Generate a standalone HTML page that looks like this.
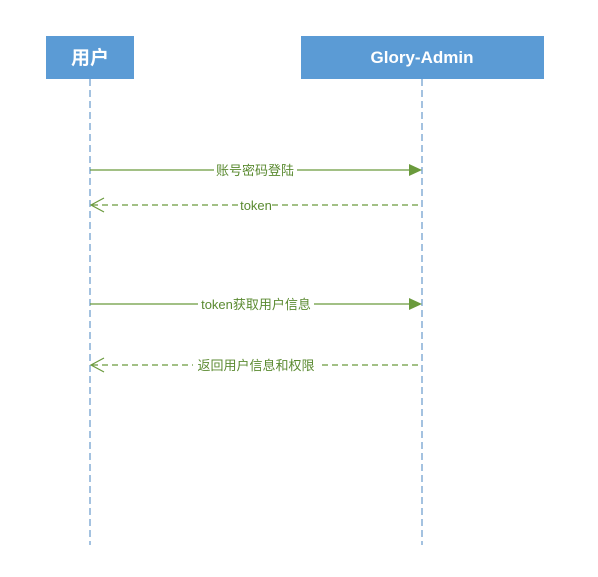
<!DOCTYPE html>
<html><head><meta charset="utf-8"><style>
body{margin:0;background:#fff;}
</style></head><body>
<svg width="598" height="577" xmlns="http://www.w3.org/2000/svg" style="display:block">
<rect width="598" height="577" fill="#fff"/>
<rect x="46" y="36" width="88" height="43" fill="#5b9bd5"/>
<rect x="301" y="36" width="243" height="43" fill="#5b9bd5"/>
<text x="90" y="64" fill="#fff" font-family="Liberation Sans, Noto Sans CJK SC, sans-serif" font-size="19" font-weight="bold" text-anchor="middle">用户</text>
<text x="422" y="63" fill="#fff" font-family="Liberation Sans, sans-serif" font-size="17" font-weight="bold" text-anchor="middle">Glory-Admin</text>
<line x1="90" y1="79" x2="90" y2="545" stroke="#4a86c0" stroke-dasharray="7,4"/>
<line x1="422" y1="79" x2="422" y2="545" stroke="#4a86c0" stroke-dasharray="7,4"/>
<g stroke="#6a9a3c" stroke-width="1.2" fill="none">
<line x1="90" y1="170" x2="410" y2="170"/>
<line x1="92" y1="205" x2="422" y2="205" stroke-dasharray="6,4"/>
<polyline points="104,198 91,205 104,212"/>
<line x1="90" y1="304" x2="410" y2="304"/>
<line x1="92" y1="365" x2="422" y2="365" stroke-dasharray="6,4"/>
<polyline points="104,358 91,365 104,372"/>
</g>
<polygon points="409,164 422,170 409,176" fill="#6a9a3c"/>
<polygon points="409,298 422,304 409,310" fill="#6a9a3c"/>
<g font-family="Liberation Sans, Noto Sans CJK SC, sans-serif" font-size="13" fill="#5a8a30" text-anchor="middle">
<rect x="214" y="162" width="83" height="16" fill="#fff"/>
<text x="255" y="175">账号密码登陆</text>
<rect x="240" y="197" width="32" height="16" fill="#fff"/>
<text x="256" y="210">token</text>
<rect x="198" y="296" width="116" height="16" fill="#fff"/>
<text x="256" y="309">token获取用户信息</text>
<rect x="193" y="357" width="126" height="16" fill="#fff"/>
<text x="256" y="370">返回用户信息和权限</text>
</g>
</svg>
</body></html>
